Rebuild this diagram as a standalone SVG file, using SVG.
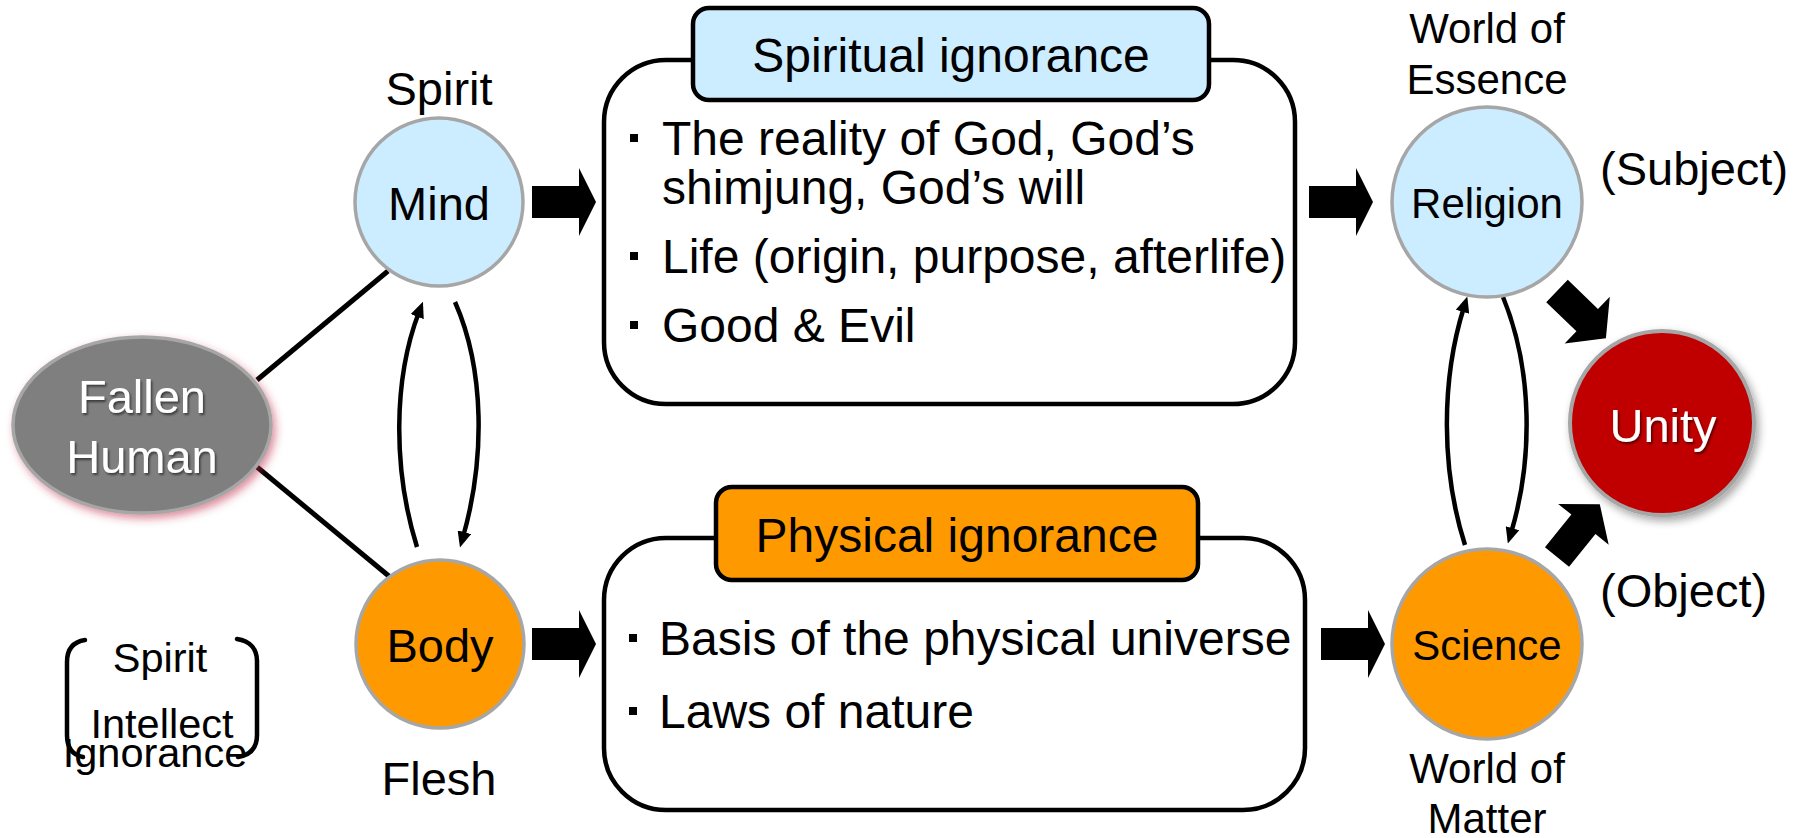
<svg xmlns="http://www.w3.org/2000/svg" width="1794" height="838" viewBox="0 0 1794 838">
<style>
text{font-family:"Liberation Sans",Arial,sans-serif;fill:#000}
.t47{font-size:47px}
.t48{font-size:48px}
.t42{font-size:42px}
.wt{fill:#fff;font-size:47px}
.node{stroke:#a6a6a6;stroke-width:3.5}
.blue{fill:#ccecff}
.orange{fill:#ff9900}
.box{fill:#fff;stroke:#000;stroke-width:4.5}
.line{stroke:#000;stroke-width:5;fill:none}
.curve{stroke:#000;stroke-width:4.5;fill:none;marker-end:url(#ah)}
.brk{stroke:#000;stroke-width:4.5;fill:none;stroke-linecap:round}
</style>
<defs>
<marker id="ah" viewBox="0 0 16 14" refX="5" refY="7" markerWidth="16" markerHeight="14" markerUnits="userSpaceOnUse" orient="auto">
<path d="M0,0 L16,7 L0,14 z" fill="#000"/>
</marker>
<path id="harrow" d="M0,-16 L47,-16 L47,-34 L64,0 L47,34 L47,16 L0,16 z" fill="#000"/>
<path id="darrow" d="M0,-15.5 L42,-15.5 L42,-32.5 L68,0 L42,32.5 L42,15.5 L0,15.5 z" fill="#000"/>
<filter id="tshadow" x="-20%" y="-20%" width="140%" height="140%">
<feDropShadow dx="1.5" dy="2" stdDeviation="1.2" flood-color="#000" flood-opacity="0.55"/>
</filter>
<filter id="pinkglow" x="-20%" y="-20%" width="140%" height="150%">
<feDropShadow dx="3" dy="4" stdDeviation="4" flood-color="#c0304d" flood-opacity="0.55"/>
</filter>
<filter id="grayshadow" x="-20%" y="-20%" width="140%" height="150%">
<feDropShadow dx="3" dy="4" stdDeviation="4" flood-color="#000" flood-opacity="0.35"/>
</filter>
</defs>

<g id="connectors">
<line class="line" x1="257" y1="380" x2="388" y2="271"/>
<line class="line" x1="257" y1="467" x2="390" y2="577"/>
<path class="curve" d="M417,547 C393,470 393,380 419,312"/>
<path class="curve" d="M455,302 C485,370 485,460 463,537"/>
<path class="curve" d="M1465,545 C1441,470 1441,380 1464,307"/>
<path class="curve" d="M1503,297 C1533,370 1533,460 1511,533"/>
<use href="#harrow" transform="translate(532,202)"/>
<use href="#harrow" transform="translate(532,644)"/>
<use href="#harrow" transform="translate(1309,202)"/>
<use href="#harrow" transform="translate(1321,644)"/>
<use href="#darrow" transform="translate(1557,291) rotate(44)"/>
<use href="#darrow" transform="translate(1557,557) rotate(-51)"/>
</g>

<g id="fallen-human">
<ellipse cx="142" cy="425" rx="129" ry="88" fill="#7f7f7f" stroke="#a6a6a6" stroke-width="3.5" filter="url(#pinkglow)"/>
<text class="wt" x="142" y="413" text-anchor="middle" filter="url(#tshadow)">Fallen</text>
<text class="wt" x="142" y="473" text-anchor="middle" filter="url(#tshadow)">Human</text>
</g>

<g id="mind">
<text class="t47" x="439" y="105" text-anchor="middle">Spirit</text>
<circle class="node blue" cx="439" cy="202" r="84"/>
<text class="t47" x="439" y="220" text-anchor="middle">Mind</text>
</g>

<g id="body">
<circle class="node orange" cx="440" cy="644" r="84"/>
<text class="t47" x="440" y="662" text-anchor="middle">Body</text>
<text class="t47" x="439" y="795" text-anchor="middle">Flesh</text>
</g>

<g id="legend">
<path class="brk" d="M85,640 C72,642 67,650 67,662 L67,735 C67,748 72,755 83,757"/>
<path class="brk" d="M237,639 C250,641 257,649 257,661 L257,735 C257,748 250,755 238,757"/>
<text x="160" y="672" text-anchor="middle" style="font-size:41.5px">Spirit</text>
<text x="162" y="738" text-anchor="middle" style="font-size:41.5px">Intellect</text>
<text x="155" y="767" text-anchor="middle" style="font-size:41.5px">Ignorance</text>
</g>

<g id="spiritual-ignorance">
<rect class="box" x="604" y="60" width="691" height="344" rx="62"/>
<rect x="693" y="8" width="516" height="92" rx="16" fill="#ccecff" stroke="#000" stroke-width="4.5"/>
<text class="t48" x="951" y="72" text-anchor="middle">Spiritual ignorance</text>
<rect x="630" y="134" width="8" height="8" fill="#000"/>
<text class="t48" x="662" y="155">The reality of God, God’s</text>
<text class="t48" x="662" y="204">shimjung, God’s will</text>
<rect x="630" y="252" width="8" height="8" fill="#000"/>
<text class="t48" x="662" y="273">Life (origin, purpose, afterlife)</text>
<rect x="630" y="321" width="8" height="8" fill="#000"/>
<text class="t48" x="662" y="342">Good &amp; Evil</text>
</g>

<g id="physical-ignorance">
<rect class="box" x="604" y="538" width="701" height="272" rx="62"/>
<rect x="716" y="487" width="482" height="93" rx="16" fill="#ff9900" stroke="#000" stroke-width="4.5"/>
<text class="t48" x="957" y="552" text-anchor="middle">Physical ignorance</text>
<rect x="629" y="634" width="8" height="8" fill="#000"/>
<text class="t48" x="659" y="655">Basis of the physical universe</text>
<rect x="629" y="707" width="8" height="8" fill="#000"/>
<text class="t48" x="659" y="728">Laws of nature</text>
</g>

<g id="religion">
<text class="t42" x="1487" y="43" text-anchor="middle">World of</text>
<text class="t42" x="1487" y="94" text-anchor="middle">Essence</text>
<circle class="node blue" cx="1487" cy="202" r="95"/>
<text class="t42" x="1487" y="218" text-anchor="middle">Religion</text>
<text class="t47" x="1600" y="185">(Subject)</text>
</g>

<g id="science">
<circle class="node orange" cx="1487" cy="644" r="95"/>
<text class="t42" x="1487" y="660" text-anchor="middle">Science</text>
<text class="t42" x="1487" y="783" text-anchor="middle">World of</text>
<text class="t42" x="1487" y="833" text-anchor="middle">Matter</text>
<text class="t47" x="1600" y="607">(Object)</text>
</g>

<g id="unity">
<circle cx="1662" cy="423" r="92" fill="#c00000" stroke="#a6a6a6" stroke-width="4" filter="url(#grayshadow)"/>
<text class="wt" x="1663" y="442" text-anchor="middle" filter="url(#tshadow)">Unity</text>
</g>
</svg>
